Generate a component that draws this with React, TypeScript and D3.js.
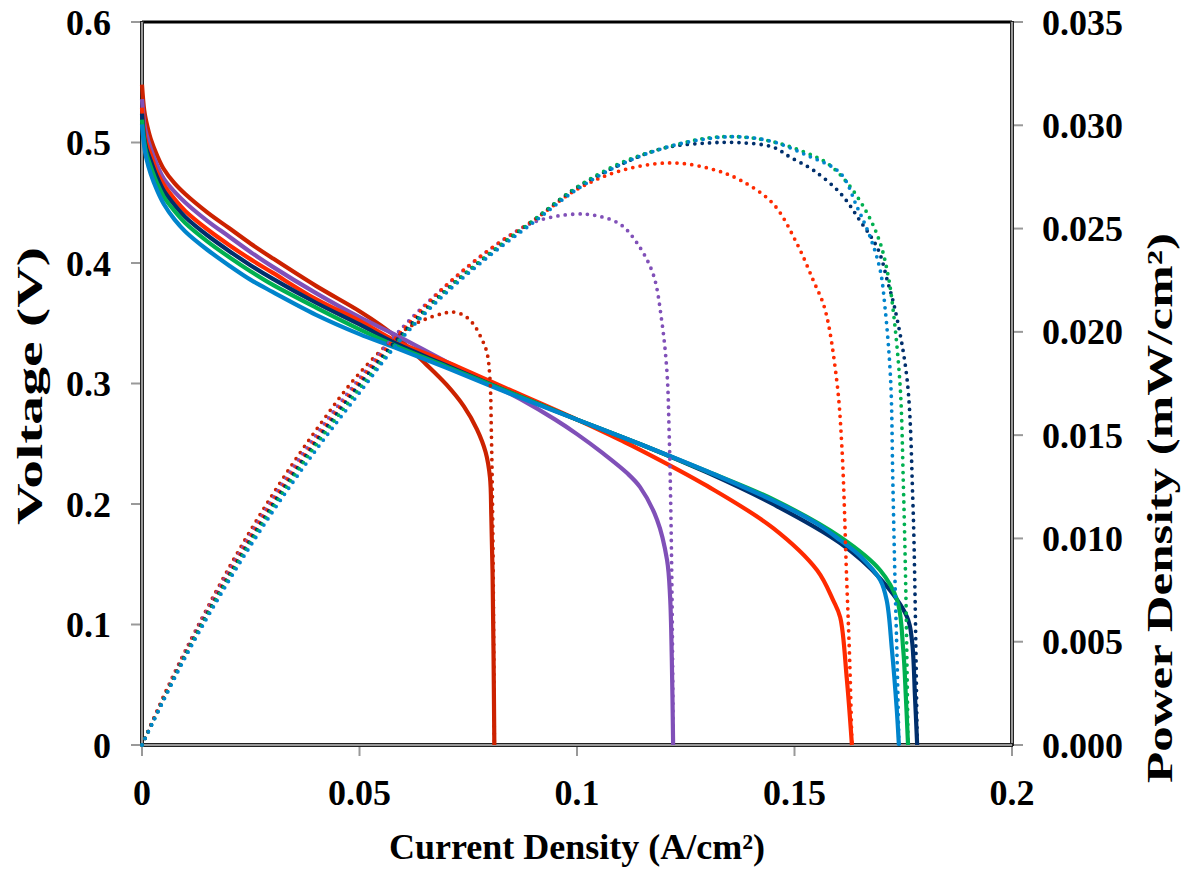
import React from "react";
import * as d3 from "d3";

// ---------- tick labels ----------
const X_TICKS = [0, 0.05, 0.1, 0.15, 0.2];
const X_TICK_LABELS = ["0", "0.05", "0.1", "0.15", "0.2"];
const V_TICKS = [0, 0.1, 0.2, 0.3, 0.4, 0.5, 0.6];
const V_TICK_LABELS = ["0", "0.1", "0.2", "0.3", "0.4", "0.5", "0.6"];
const P_TICKS = [0, 0.005, 0.01, 0.015, 0.02, 0.025, 0.03, 0.035];
const P_TICK_LABELS = ["0.000", "0.005", "0.010", "0.015", "0.020", "0.025", "0.030", "0.035"];

// ---------- series colours ----------
const SERIES_COLORS = ["#CC2200", "#8050B8", "#FF2A00", "#002F6C", "#00B050", "#0084CC"];

// ---------- polarization curves (current A/cm2, voltage V) ----------
const S1_I = [0, 0.0005, 0.001, 0.002, 0.0035, 0.005, 0.0075, 0.01, 0.015, 0.02, 0.025, 0.03, 0.04, 0.05, 0.055, 0.06, 0.065, 0.07, 0.074, 0.077, 0.079, 0.08, 0.0803, 0.0806, 0.0808, 0.081];
const S1_V = [0.548, 0.527, 0.517, 0.503, 0.489, 0.478, 0.466, 0.457, 0.442, 0.429, 0.416, 0.404, 0.381, 0.36, 0.348, 0.334, 0.317, 0.299, 0.281, 0.262, 0.243, 0.222, 0.19, 0.14, 0.08, 0];

const S2_I = [0, 0.0005, 0.001, 0.002, 0.0035, 0.005, 0.0075, 0.01, 0.015, 0.02, 0.025, 0.03, 0.04, 0.05, 0.0585, 0.07, 0.08, 0.087, 0.095, 0.1, 0.106, 0.1115, 0.1145, 0.1184, 0.1207, 0.1214, 0.1218, 0.1221];
const S2_V = [0.536, 0.516, 0.507, 0.495, 0.481, 0.47, 0.459, 0.45, 0.435, 0.422, 0.409, 0.397, 0.375, 0.355, 0.34, 0.318, 0.3, 0.287, 0.27, 0.258, 0.242, 0.2257, 0.214, 0.187, 0.1535, 0.123, 0.07, 0];

const S3_I = [0, 0.0005, 0.001, 0.002, 0.0035, 0.005, 0.0075, 0.01, 0.015, 0.02, 0.025, 0.03, 0.04, 0.05, 0.0585, 0.07, 0.085, 0.1, 0.11, 0.1145, 0.1299, 0.1451, 0.1552, 0.1589, 0.1605, 0.162, 0.1632];
const S3_V = [0.529, 0.509, 0.5, 0.49, 0.475, 0.465, 0.453, 0.443, 0.428, 0.415, 0.403, 0.392, 0.37, 0.352, 0.335, 0.318, 0.294, 0.27, 0.253, 0.245, 0.215, 0.18, 0.145, 0.12, 0.106, 0.056, 0];

const S4_I = [0, 0.0005, 0.001, 0.002, 0.0035, 0.005, 0.0075, 0.01, 0.015, 0.02, 0.025, 0.03, 0.04, 0.05, 0.0585, 0.07, 0.085, 0.1, 0.115, 0.13, 0.145, 0.1605, 0.1697, 0.1759, 0.177, 0.1777, 0.1782];
const S4_V = [0.524, 0.504, 0.495, 0.485, 0.471, 0.46, 0.448, 0.438, 0.423, 0.41, 0.398, 0.387, 0.367, 0.349, 0.333, 0.315, 0.292, 0.27, 0.249, 0.226, 0.2, 0.1675, 0.138, 0.106, 0.087, 0.04, 0];

const S5_I = [0, 0.0005, 0.001, 0.002, 0.0035, 0.005, 0.0075, 0.01, 0.015, 0.02, 0.025, 0.03, 0.04, 0.05, 0.0585, 0.07, 0.085, 0.1, 0.115, 0.13, 0.145, 0.1605, 0.1697, 0.1736, 0.175, 0.1756, 0.1761];
const S5_V = [0.519, 0.501, 0.491, 0.48, 0.466, 0.455, 0.443, 0.433, 0.418, 0.405, 0.393, 0.382, 0.363, 0.345, 0.331, 0.314, 0.292, 0.27, 0.249, 0.227, 0.204, 0.1726, 0.145, 0.12, 0.079, 0.04, 0];

const S6_I = [0, 0.0005, 0.001, 0.002, 0.0035, 0.005, 0.0075, 0.01, 0.015, 0.02, 0.025, 0.03, 0.04, 0.05, 0.058, 0.07, 0.085, 0.1, 0.115, 0.13, 0.145, 0.155, 0.1605, 0.165, 0.1697, 0.1712, 0.1724, 0.1735, 0.174];
const S6_V = [0.515, 0.497, 0.487, 0.474, 0.46, 0.449, 0.436, 0.426, 0.411, 0.398, 0.386, 0.376, 0.357, 0.341, 0.33, 0.313, 0.291, 0.27, 0.249, 0.227, 0.203, 0.184, 0.17, 0.157, 0.137, 0.12, 0.079, 0.03, 0];

// ---------- power density curves (current A/cm2, power) ----------
const P1_I = [0, 0.005, 0.01, 0.02, 0.03, 0.04, 0.05, 0.06, 0.065, 0.07, 0.0715, 0.074, 0.0761, 0.078, 0.0793, 0.08, 0.0803, 0.0806, 0.0808, 0.081];
const P1_P = [0, 0.00238, 0.00458, 0.00858, 0.01212, 0.01524, 0.018, 0.02004, 0.0206, 0.02093, 0.02096, 0.0208, 0.0204, 0.0197, 0.019, 0.0177, 0.0153, 0.0113, 0.0065, 0];

const P2_I = [0, 0.01, 0.02, 0.03, 0.04, 0.05, 0.06, 0.07, 0.08, 0.09, 0.0995, 0.105, 0.11, 0.1138, 0.1175, 0.1195, 0.1207, 0.1212, 0.1216, 0.1219, 0.1221];
const P2_P = [0, 0.00451, 0.00844, 0.01191, 0.015, 0.01775, 0.02024, 0.02226, 0.024, 0.0253, 0.0257, 0.0256, 0.0252, 0.0243, 0.0228, 0.0205, 0.018, 0.015, 0.011, 0.006, 0];

const P3_I = [0, 0.01, 0.02, 0.03, 0.04, 0.05, 0.06, 0.07, 0.08, 0.09, 0.1, 0.11, 0.1214, 0.1306, 0.1375, 0.1451, 0.1505, 0.1543, 0.157, 0.1597, 0.1609, 0.162, 0.1627, 0.1632];
const P3_P = [0, 0.00444, 0.0083, 0.01176, 0.0148, 0.0176, 0.0201, 0.02226, 0.024, 0.0254, 0.0269, 0.0278, 0.02818, 0.0279, 0.02735, 0.0262, 0.0243, 0.0225, 0.0211, 0.01767, 0.0144, 0.008, 0.004, 0];

const P4_I = [0, 0.01, 0.02, 0.03, 0.04, 0.05, 0.06, 0.07, 0.08, 0.09, 0.1, 0.11, 0.12, 0.1299, 0.1375, 0.1451, 0.149, 0.1543, 0.1605, 0.165, 0.1692, 0.1715, 0.1731, 0.1759, 0.1772, 0.1777, 0.1782];
const P4_P = [0, 0.00439, 0.0082, 0.01161, 0.01468, 0.01745, 0.01995, 0.02205, 0.0238, 0.0254, 0.027, 0.0281, 0.0289, 0.02914, 0.02916, 0.02894, 0.02846, 0.02783, 0.02672, 0.0254, 0.024, 0.02236, 0.0211, 0.01767, 0.01186, 0.00736, 0];

const P5_I = [0, 0.01, 0.02, 0.03, 0.04, 0.05, 0.06, 0.07, 0.08, 0.09, 0.1, 0.11, 0.12, 0.1299, 0.1375, 0.1451, 0.1528, 0.1575, 0.162, 0.1667, 0.1697, 0.1715, 0.1726, 0.1743, 0.175, 0.1756, 0.1761];
const P5_P = [0, 0.00434, 0.0081, 0.01146, 0.01452, 0.01725, 0.01982, 0.022, 0.0238, 0.0254, 0.027, 0.02817, 0.0289, 0.02938, 0.02944, 0.0292, 0.02866, 0.02817, 0.02725, 0.02575, 0.0243, 0.02275, 0.0212, 0.01733, 0.01283, 0.00736, 0];

const P6_I = [0, 0.01, 0.02, 0.03, 0.04, 0.05, 0.06, 0.07, 0.08, 0.09, 0.1, 0.11, 0.12, 0.1299, 0.1375, 0.1451, 0.1528, 0.1605, 0.1644, 0.1674, 0.1697, 0.1708, 0.1721, 0.1726, 0.1731, 0.1736, 0.174];
const P6_P = [0, 0.00426, 0.00796, 0.01128, 0.01428, 0.01705, 0.01975, 0.0219, 0.0237, 0.0253, 0.0269, 0.0281, 0.0289, 0.02935, 0.02944, 0.0292, 0.02855, 0.02769, 0.02604, 0.02459, 0.02299, 0.0212, 0.01767, 0.01283, 0.008, 0.004, 0];

const VOLT_SERIES = [
  [S1_I, S1_V],
  [S2_I, S2_V],
  [S3_I, S3_V],
  [S4_I, S4_V],
  [S5_I, S5_V],
  [S6_I, S6_V],
];
const POWER_SERIES = [
  [P1_I, P1_P],
  [P2_I, P2_P],
  [P3_I, P3_P],
  [P4_I, P4_P],
  [P5_I, P5_P],
  [P6_I, P6_P],
];

const W = 1191;
const H = 871;
const M = { left: 142, right: 1012, top: 22, bottom: 745 };
const FONT = "'Liberation Serif', 'Times New Roman', serif";
const FS = 36;

export default function App() {
  const x = d3.scaleLinear().domain([0, 0.2]).range([M.left, M.right]);
  const yV = d3.scaleLinear().domain([0, 0.6]).range([M.bottom, M.top]);
  const yP = d3.scaleLinear().domain([0, 0.035]).range([M.bottom, M.top]);

  const lineV = d3
    .line<[number, number]>()
    .x((d) => x(d[0]))
    .y((d) => yV(d[1]))
    .curve(d3.curveCatmullRom.alpha(0.5));
  const lineP = d3
    .line<[number, number]>()
    .x((d) => x(d[0]))
    .y((d) => yP(d[1]))
    .curve(d3.curveCatmullRom.alpha(0.5));

  const zip = (a: number[], b: number[]) => a.map((v, i) => [v, b[i]] as [number, number]);

  return (
    <svg
      width={W}
      height={H}
      style={{ position: "absolute", left: 0, top: 0, background: "#fff" }}
      fontFamily={FONT}
    >
      <rect x={0} y={0} width={W} height={H} fill="#fff" />

      {/* top border */}
      <line x1={M.left} x2={M.right} y1={M.top} y2={M.top} stroke="#000" strokeWidth={3} />

      {/* ticks */}
      {V_TICKS.map((t) => (
        <line key={"vt" + t} x1={M.left - 11} x2={M.left} y1={yV(t)} y2={yV(t)} stroke="#999" strokeWidth={2} />
      ))}
      {P_TICKS.map((t) => (
        <line key={"pt" + t} x1={M.right} x2={M.right + 11} y1={yP(t)} y2={yP(t)} stroke="#999" strokeWidth={2} />
      ))}
      {X_TICKS.map((t) => (
        <line key={"xt" + t} x1={x(t)} x2={x(t)} y1={M.bottom} y2={M.bottom + 11} stroke="#999" strokeWidth={2} />
      ))}

      {/* axis lines: dark edged grey */}
      <line x1={M.left} x2={M.left} y1={M.top - 1} y2={M.bottom + 1} stroke="#222" strokeWidth={4} />
      <line x1={M.left} x2={M.left} y1={M.top} y2={M.bottom} stroke="#999" strokeWidth={2} />
      <line x1={M.right} x2={M.right} y1={M.top - 1} y2={M.bottom + 1} stroke="#222" strokeWidth={4} />
      <line x1={M.right} x2={M.right} y1={M.top} y2={M.bottom} stroke="#999" strokeWidth={2} />
      <line x1={M.left - 1} x2={M.right + 1} y1={M.bottom} y2={M.bottom} stroke="#222" strokeWidth={4} />
      <line x1={M.left} x2={M.right} y1={M.bottom} y2={M.bottom} stroke="#999" strokeWidth={2} />

      {/* voltage curves */}
      {VOLT_SERIES.map(([I, V], k) => (
        <path
          key={"v" + k}
          d={lineV(zip(I, V)) || ""}
          fill="none"
          stroke={SERIES_COLORS[k]}
          strokeWidth={4.2}
          strokeLinejoin="round"
        />
      ))}

      {/* power curves (dotted) */}
      {POWER_SERIES.map(([I, P], k) => (
        <path
          key={"p" + k}
          d={lineP(zip(I, P)) || ""}
          fill="none"
          stroke={SERIES_COLORS[k]}
          strokeWidth={3.8}
          strokeLinecap="round"
          strokeDasharray="0 7.4"
        />
      ))}

      {/* tick labels */}
      {V_TICKS.map((t, i) => (
        <text key={"vl" + t} x={111} y={yV(t) + 12.5} textAnchor="end" fontSize={FS} fontWeight="bold">
          {V_TICK_LABELS[i]}
        </text>
      ))}
      {P_TICKS.map((t, i) => (
        <text key={"pl" + t} x={1042} y={yP(t) + 12.5} textAnchor="start" fontSize={FS} fontWeight="bold">
          {P_TICK_LABELS[i]}
        </text>
      ))}
      {X_TICKS.map((t, i) => (
        <text key={"xl" + t} x={x(t)} y={805} textAnchor="middle" fontSize={FS} fontWeight="bold">
          {X_TICK_LABELS[i]}
        </text>
      ))}

      {/* axis titles */}
      <text x={577} y={859} textAnchor="middle" fontSize={FS} fontWeight="bold">
        Current Density (A/cm²)
      </text>
      <text
        transform={`translate(42, 386) rotate(-90)`}
        textAnchor="middle"
        fontSize={FS}
        fontWeight="bold"
        textLength={278}
        lengthAdjust="spacingAndGlyphs"
      >
        Voltage (V)
      </text>
      <text
        transform={`translate(1172, 508) rotate(-90)`}
        textAnchor="middle"
        fontSize={FS}
        fontWeight="bold"
        textLength={550}
        lengthAdjust="spacingAndGlyphs"
      >
        Power Density (mW/cm²)
      </text>
    </svg>
  );
}
